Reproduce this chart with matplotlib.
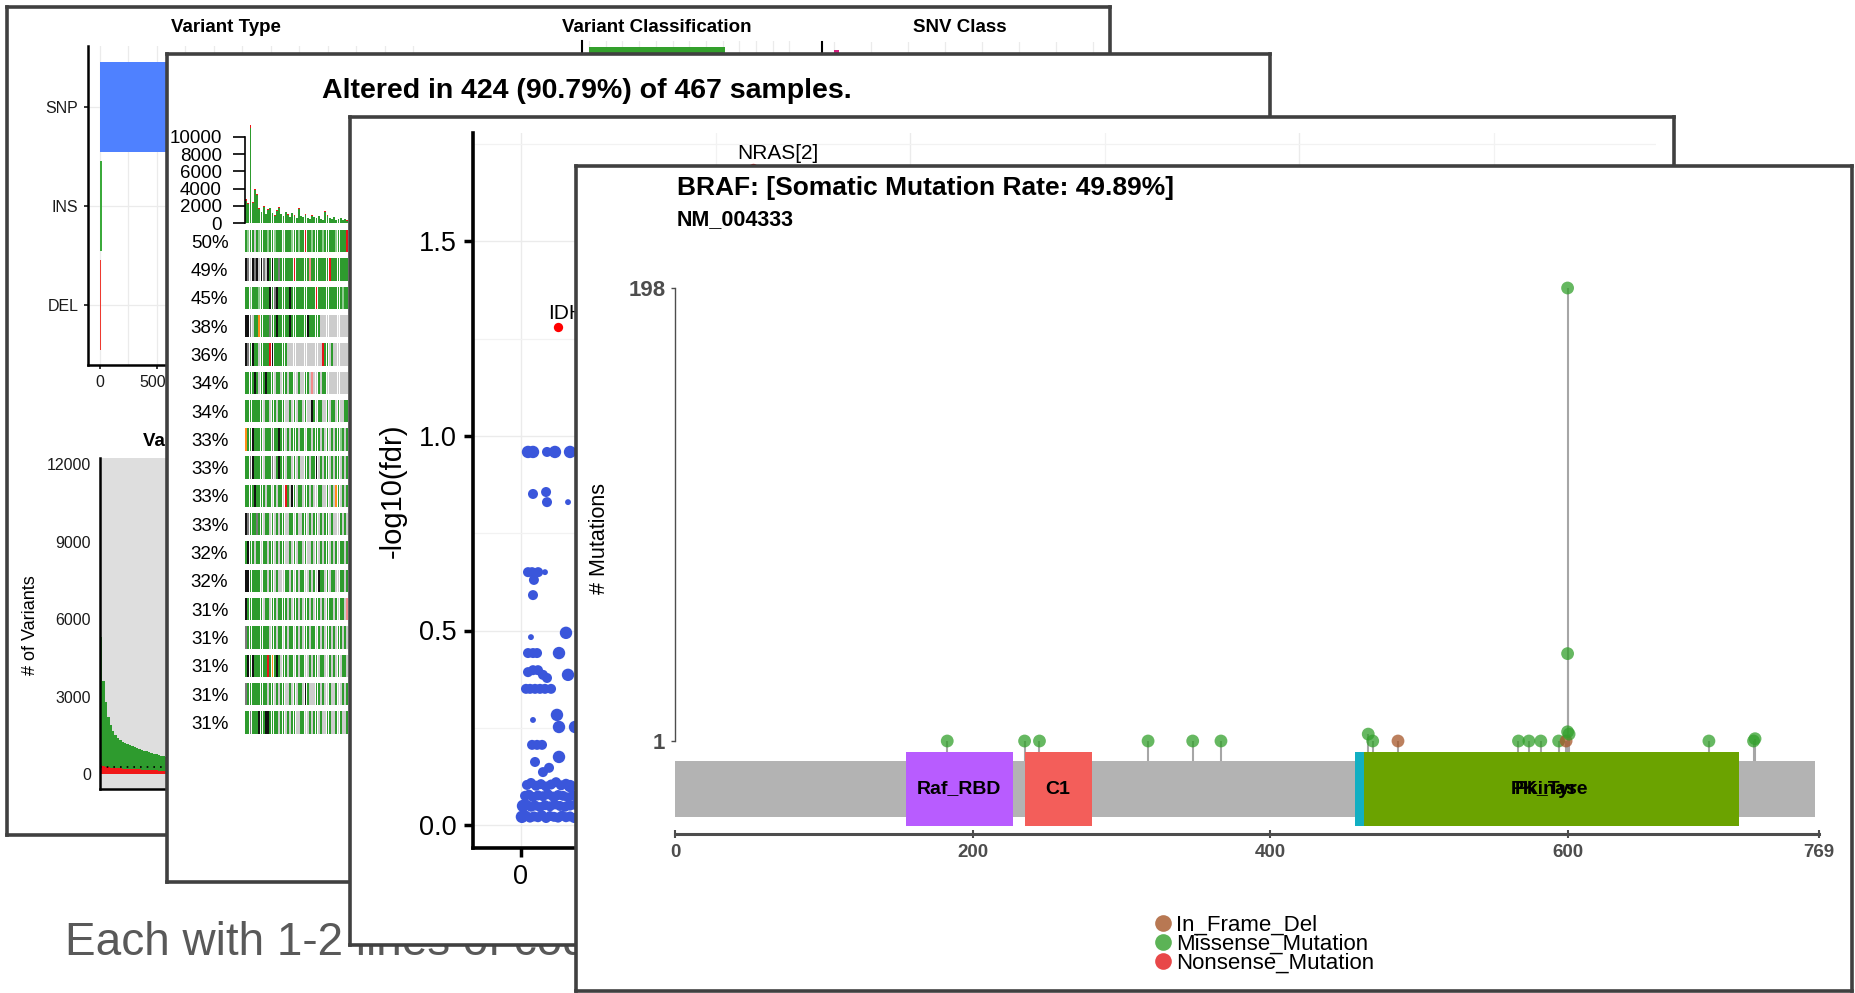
import numpy as np
import matplotlib.pyplot as plt
from matplotlib.patches import Rectangle
from matplotlib.lines import Line2D
from matplotlib.ticker import MultipleLocator

plt.rcParams['font.family'] = ['Liberation Sans', 'DejaVu Sans']

W, H = 1856, 993

# ---------------- data ----------------
# panel 1 : maf summary
vt_types = ['SNP', 'INS', 'DEL']
vt_counts = [27500, 140, 120]
vt_colors = ['#4F81FF', '#3BAA3B', '#EE3A30']

vc_classes = ['Missense_Mutation', 'Nonsense_Mutation', 'Splice_Site', 'Frame_Shift_Del',
              'Frame_Shift_Ins', 'In_Frame_Del', 'In_Frame_Ins', 'Translation_Start_Site']
vc_counts = [203000, 9800, 6100, 3300, 2700, 1500, 400, 250]
vc_colors = ['#33A02C', '#E31A1C', '#FF7F00', '#1F78B4', '#6A3D9A', '#A65628', '#F781BF', '#999999']

snv_classes = ['T>G', 'T>C', 'T>A', 'C>T', 'C>G', 'C>A']
snv_counts = [1400, 9000, 4000, 190000, 3500, 8000]
snv_colors = ['#D61F7F', '#E7298A', '#1B9E77', '#D95F02', '#7570B3', '#66A61E']

vps_missense = [4950, 3300, 2520, 1940, 1650, 1410, 1270, 1180, 1100, 1040, 990, 950, 910, 880,
                840, 820, 790, 770, 740, 720, 690, 670, 650, 620, 600, 580, 560, 540]
vps_nonsense = [350, 300, 280, 260, 250, 240, 230, 220, 220, 210, 210, 200, 200, 190,
                190, 180, 180, 170, 170, 160, 160, 150, 140, 140, 130, 120, 120, 120]
vps_median = 270

# panel 2 : oncoplot
onco_title = 'Altered in 424 (90.79%) of 467 samples.'
tmb_missense = [2600, 2150, 11000, 2300, 3800, 3250, 1620, 1240,
                1900, 1050, 1520, 1710, 1140, 860, 1430, 1800,
                1050, 760, 1240, 950, 670, 1140, 860, 570,
                1610, 760, 670, 950, 570, 480, 860, 670,
                570, 760, 480, 380, 1330, 860, 570, 480,
                670, 380, 480, 570, 380, 480, 290, 380]
tmb_nonsense = [200, 150, 350, 100, 200, 150, 80, 60,
                100, 50, 80, 90, 60, 40, 70, 100,
                50, 40, 60, 50, 30, 60, 40, 30,
                90, 40, 30, 50, 30, 20, 40, 30,
                30, 40, 20, 20, 70, 40, 30, 20,
                30, 20, 20, 30, 20, 20, 10, 20]
onco_pct = [50, 49, 45, 38, 36, 34, 34, 33, 33, 33, 33, 32, 32, 31, 31, 31, 31, 31]
onco_rows = [
    'GgGG-GgG' 'GGgGGgGG' 'GgGGGgGG' 'gGGrGGgG' 'GGGgGGGG' 'GgGGGGrG',
    'kd-kdk-k' 'd-kGkGGd' 'GGGGGGrG' 'GGGGGpGG' 'GGGGGGrG' 'GGGGGGGG',
    'GGgGGGgG' 'GGGkGdkG' 'GGGGkGGG' 'GGGGGGGG' 'rGGGGGGG' 'GGGGgGGG',
    'kkd-GGoG' 'GGGdGGkG' 'GGGGkGGG' 'GGGGkGGG' 'GG------' '--.-----',
    'kdGkGG-G' 'GGGrkGGG' 'GGG-----' '--------' '---rGG-G' '--------',
    'GGGGkG-G' 'GkGGG-GG' '-GG-GG--' 'G--GG-p-' '-G-GG---' '--------',
    'GGGGGGGG' '-GG-GG-G' 'GG--G-G-' 'GG-G--kG' '-GG--G-G' 'G-G--GG-',
    'oGGkGGGG' '-GGGdGGk' 'GG-G-GGG' '-GG-GG-G' 'GG-G-G-G' '-GGgG-G-',
    'GGdkGGGG' '-GGGd-Gk' 'GG-GG-G-' 'G--GG-GG' 'k-G-GG-G' '-GG-G-GG',
    'GGGGkGGG' 'G-GG-G-G' 'G-rG-kG-' 'GG-GG-G-' '-GG--G-G' '-oG-G-G-',
    'kdGGGdGG' '-GG-G-G-' 'GG--GG-G' '--GG-G-G' 'G-G-GG-G' '---G-G-G',
    'GkGG-GG-' 'GG-GG-G-' 'GG--G-G-' 'GG-G--G-' 'G-G-GG-G' '-G-GG-G-',
    'kkGGGGG-' 'GG-GG-G-' '--GG-G-G' '-GG--G-G' '-kGG-G-G' 'G--GG-G-',
    'kGGGGGGG' '-GG-GG-G' 'GGG-G-GG' '-G-GG-G-' 'GG-G-GGG' '-G-GG-pG',
    'dGGGGGGG' 'GGG-GG-G' 'G-G-GG-G' '-G-GG-GG' '-G-G-GG-' 'G-GG-G-G',
    'GkGkGGGG' 'GGrGoGkG' '-GG-GG-G' '-GG--G-G' 'G-GG--G-' 'G-G-GG-G',
    'dGGGGGGG' 'GG-GG-G-' 'GG--G-G-' 'GG-kG---' 'GG-G--G-' '-G--G-G-',
    'GGdGGGkG' 'GkkGGGG-' 'GG-G-GG-' '-GG--G-G' 'G-G--GG-' '-G-G--G-',
]
onco_colors = {'G': '#2E9B2E', 'g': '#8FCB8F', '-': '#CCCCCC', '.': '#DEDEDE', 'k': '#111111',
               'd': '#7A7A7A', 'r': '#E8141A', 'o': '#FF8C1A', 'p': '#F28B8B'}

# panel 3 : oncodrive clusters
od_x = [0.0045, 0.0077, 0.0167, 0.0218, 0.0315,
        0.0077, 0.0161, 0.0167, 0.0302,
        0.0045, 0.0071, 0.0110, 0.0154, 0.0083, 0.0077,
        0.0064, 0.0289,
        0.0045, 0.0077, 0.0103, 0.0244,
        0.0045, 0.0077, 0.0109, 0.0141, 0.0167, 0.0302,
        0.0032, 0.0058, 0.0090, 0.0122, 0.0154, 0.0193,
        0.0231, 0.0077, 0.0244, 0.0347,
        0.0071, 0.0103, 0.0135,
        0.0244, 0.0090, 0.0180, 0.0141,
        0.0038, 0.0064, 0.0096, 0.0128, 0.0161, 0.0193, 0.0225, 0.0257, 0.0289, 0.0315,
        0.0026, 0.0051, 0.0077, 0.0109, 0.0141, 0.0173, 0.0206, 0.0238, 0.0270, 0.0302, 0.0334,
        0.0013, 0.0038, 0.0064, 0.0090, 0.0122, 0.0154, 0.0186, 0.0218, 0.0250, 0.0283, 0.0315, 0.0347,
        0.0006, 0.0032, 0.0058, 0.0083, 0.0109, 0.0135, 0.0161, 0.0186, 0.0212, 0.0238, 0.0263,
        0.0289, 0.0315, 0.0341]
od_y = [0.959, 0.959, 0.959, 0.959, 0.959,
        0.851, 0.856, 0.830, 0.830,
        0.650, 0.650, 0.650, 0.650, 0.630, 0.591,
        0.483, 0.494,
        0.442, 0.442, 0.442, 0.442,
        0.393, 0.398, 0.398, 0.386, 0.378, 0.386,
        0.350, 0.350, 0.350, 0.350, 0.350, 0.350,
        0.283, 0.270, 0.252, 0.252,
        0.206, 0.206, 0.206,
        0.175, 0.162, 0.147, 0.136,
        0.103, 0.108, 0.101, 0.105, 0.099, 0.104, 0.110, 0.102, 0.106, 0.100,
        0.075, 0.078, 0.072, 0.076, 0.074, 0.079, 0.073, 0.077, 0.075, 0.071, 0.076,
        0.049, 0.052, 0.047, 0.050, 0.046, 0.051, 0.048, 0.053, 0.049, 0.047, 0.050, 0.052,
        0.021, 0.024, 0.019, 0.022, 0.020, 0.025, 0.018, 0.023, 0.021, 0.019, 0.024, 0.020,
        0.022, 0.018]
od_n = [3, 3, 2, 3, 3,
        2, 2, 2, 1,
        2, 2, 2, 1, 2, 2,
        1, 3,
        2, 2, 2, 3,
        2, 2, 2, 2, 2, 3,
        2, 2, 2, 2, 2, 2,
        3, 1, 3, 3,
        2, 2, 2,
        3, 2, 2, 2,
        2, 2, 2, 2, 2, 2, 2, 2, 2, 3,
        2, 2, 2, 2, 2, 2, 2, 2, 2, 2, 2,
        3, 2, 2, 2, 2, 2, 2, 2, 2, 2, 2, 2,
        3, 2, 2, 2, 2, 2, 2, 2, 2, 2, 2, 2, 2, 2]
hit_genes = ['IDH1[1]', 'NRAS[2]']
hit_x = [0.024, 0.149]
hit_y = [1.28, 1.689]

# panel 4 : lollipop
prot_len = 766
lp_pos = [183, 235, 245, 318, 348, 367, 466, 469, 486, 567, 574, 582, 594, 599,
          600, 600, 600, 601, 695, 725, 726]
lp_count = [1, 1, 1, 1, 1, 1, 4, 1, 1, 1, 1, 1, 1, 1, 198, 39, 5, 4, 1, 1, 2]
lp_class = ['Missense_Mutation'] * 8 + ['In_Frame_Del'] + ['Missense_Mutation'] * 4 + \
           ['In_Frame_Del'] + ['Missense_Mutation'] * 7
lp_classes = ['In_Frame_Del', 'Missense_Mutation', 'Nonsense_Mutation']
lp_colors = {'In_Frame_Del': '#A65628', 'Missense_Mutation': '#33A02C', 'Nonsense_Mutation': '#E31A1C'}
dom_names = ['Raf_RBD', 'C1', 'PK_Tyr', 'Pkinase']
dom_start = [155, 235, 457, 463]
dom_end = [227, 280, 712, 715]
dom_colors = ['#B85CFF', '#F35E5A', '#12AFC2', '#6BA300']

# ---------------- layout helpers ----------------
fig = plt.figure(figsize=(W / 100, H / 100), dpi=100)


def box(x0, y0, x1, y1):
    return [x0 / W, 1 - y1 / H, (x1 - x0) / W, (y1 - y0) / H]


def frame(x0, y0, x1, y1, z):
    ax = fig.add_axes(box(x0, y0, x1, y1), zorder=z)
    ax.set_xticks([])
    ax.set_yticks([])
    for s in ax.spines.values():
        s.set_color('#404040')
        s.set_linewidth(2.6)
    return ax


def sub(x0, y0, x1, y1, z):
    ax = fig.add_axes(box(x0, y0, x1, y1), zorder=z)
    ax.set_facecolor('none')
    ax.spines[['top', 'right']].set_visible(False)
    return ax


def label(x, y, s, z, **kw):
    fig.text(x / W, 1 - y / H, s, zorder=z, **kw)


# slide text behind the pictures
label(65, 955, 'Each with 1-2 lines of code', 0.5, fontsize=33, color='#595959', va='baseline')

# ---------------- panel 1 ----------------
frame(7, 7, 1110, 835, 1)

ax = sub(88, 46, 440, 365, 1.1)
ax.barh(range(len(vt_types)), vt_counts, height=0.91, color=vt_colors, zorder=2)
ax.set_ylim((365 - 107) / 99, -(107 - 46) / 99)
ax.set_xlim(-12 / 28.5 * 2500, (440 - 100) / 28.5 * 2500)
ax.set_yticks(range(len(vt_types)), vt_types)
ax.xaxis.set_major_locator(MultipleLocator(5000))
ax.xaxis.set_minor_locator(MultipleLocator(2500))
ax.grid(which='both', color='#EBEBEB', lw=0.9)
ax.set_axisbelow(True)
ax.tick_params(which='minor', length=0)
ax.tick_params(labelsize=11.5, length=3, width=1.1, pad=4, labelcolor='#1A1A1A')
ax.spines[['left', 'bottom']].set_linewidth(1.8)
label(226, 28, 'Variant Type', 1.2, fontsize=13.5, weight='bold', ha='center', va='center')

ax = sub(582, 41, 800, 380, 1.1)
ax.barh(range(len(vc_classes)), vc_counts, height=0.8, color=vc_colors, zorder=2)
ax.set_ylim((380 - 63) / 40, -(63 - 41) / 40)
ax.set_xlim(-7 / 16.7 * 25000, (800 - 589) / 16.7 * 25000)
ax.xaxis.set_major_locator(MultipleLocator(25000))
ax.set_yticks([])
ax.grid(axis='x', color='#EBEBEB', lw=0.9)
ax.set_axisbelow(True)
ax.tick_params(length=0, labelbottom=False)
ax.spines['bottom'].set_visible(False)
ax.spines['left'].set_linewidth(1.5)
label(657, 27, 'Variant Classification', 1.2, fontsize=13.5, weight='bold', ha='center', va='center')

ax = sub(822, 42, 1100, 380, 1.1)
ax.barh(range(len(snv_classes)), snv_counts, height=0.8, color=snv_colors, zorder=2)
ax.set_ylim((380 - 70) / 50, -(70 - 42) / 50)
ax.set_xlim(-12 / 37 * 10000, (1100 - 834) / 37 * 10000)
ax.xaxis.set_major_locator(MultipleLocator(10000))
ax.set_yticks([])
ax.grid(axis='x', color='#EBEBEB', lw=0.9)
ax.set_axisbelow(True)
ax.tick_params(length=0, labelbottom=False)
ax.spines['bottom'].set_visible(False)
ax.spines['left'].set_linewidth(1.5)
label(960, 27, 'SNV Class', 1.2, fontsize=13.5, weight='bold', ha='center', va='center')

ax = sub(100, 458, 400, 789, 1.1)
ax.set_facecolor('#DEDEDE')
xs = np.arange(len(vps_missense))
ax.bar(xs, vps_nonsense, width=0.95, color='#F01818', lw=0)
ax.bar(xs, vps_missense, bottom=vps_nonsense, width=0.95, color='#2E9B2E', lw=0)
ax.axhline(vps_median, color='black', ls=(0, (1, 3)), lw=1.2)
ax.set_xlim(-0.5, 300 / 2.4 - 0.5)
ax.set_ylim(-(789 - 774) / 25.8 * 1000, (774 - 458) / 25.8 * 1000)
ax.set_yticks([0, 3000, 6000, 9000, 12000])
ax.set_xticks([])
ax.tick_params(length=0, pad=6.5, labelsize=11.5, labelcolor='#1A1A1A')
ax.spines[['left', 'bottom']].set_linewidth(1.8)
label(143, 442, 'Variants per sample', 1.2, fontsize=13.5, weight='bold', ha='left', va='center')
label(31, 625, '# of Variants', 1.2, fontsize=13, rotation=90, ha='center', va='center')

# ---------------- panel 2 ----------------
frame(167, 54, 1270, 882, 2)
label(587, 91, onco_title, 2.2, fontsize=20.5, weight='bold', ha='center', va='center')

ax = sub(245, 118, 1178, 223, 2.1)
xs = np.arange(len(tmb_missense))
ax.bar(xs, tmb_missense, width=0.85, color='#2E9B2E', lw=0)
ax.bar(xs, tmb_nonsense, bottom=tmb_missense, width=0.85, color='#F01818', lw=0)
ax.set_xlim(-0.5, 423.5)
ax.set_ylim(0, 12200)
ax.spines['bottom'].set_visible(False)
ax.spines['left'].set_bounds(0, 10000)
ax.spines['left'].set_linewidth(1.2)
ax.set_yticks(range(0, 10001, 2000))
ax.set_xticks([])
ax.tick_params(length=8.6, width=1.2, pad=8, labelsize=13.5)

ax = sub(245, 230, 1178, 734, 2.1)
for i, row in enumerate(onco_rows):
    for code, col in onco_colors.items():
        cols = [j for j, c in enumerate(row) if c == code]
        if cols:
            ax.bar(cols, 0.795, bottom=i, width=0.8, color=col, lw=0)
ax.set_xlim(-0.5, 423.5)
ax.set_ylim((734 - 230) / 28.3, 0)
ax.set_yticks(np.arange(len(onco_pct)) + 0.3975, [f'{p}%' for p in onco_pct])
ax.set_xticks([])
ax.spines[['left', 'bottom']].set_visible(False)
ax.tick_params(length=0, pad=12, labelsize=13.5)

# ---------------- panel 3 ----------------
frame(350, 117, 1674, 945, 3)
ax = sub(473, 133, 1656, 848, 3.1)
size_map = {1: 18, 2: 52, 3: 80}
ax.scatter(od_x, od_y, s=[size_map[n] for n in od_n], color='#3A56DB', lw=0, zorder=3)
ax.scatter(hit_x, hit_y, s=45, color='#FF0000', lw=0, zorder=4)
ax.text(hit_x[0] - 0.0067, hit_y[0] + 0.036, hit_genes[0], fontsize=15, ha='left', va='center')
ax.text(hit_x[1] + 0.016, hit_y[1] + 0.038, hit_genes[1], fontsize=15, ha='center', va='center')
ax.set_xlim(-48 / 1557, (1656 - 521) / 1557)
ax.set_ylim(-(848 - 825) / 389, (825 - 133) / 389)
ax.set_xticks([0, 0.25, 0.5], ['0', '0.25', '0.50'])
ax.set_yticks([0, 0.5, 1.0, 1.5], ['0.0', '0.5', '1.0', '1.5'])
ax.xaxis.set_minor_locator(MultipleLocator(0.125))
ax.yaxis.set_minor_locator(MultipleLocator(0.25))
ax.grid(which='major', color='#EBEBEB', lw=1.0)
ax.grid(which='minor', color='#F2F2F2', lw=0.9)
ax.set_axisbelow(True)
ax.spines[['left', 'bottom']].set_linewidth(2.6)
ax.tick_params(which='major', length=6.5, width=2.5, labelsize=19.5, pad=5)
ax.tick_params(which='minor', length=0)
label(393, 491, '-log10(fdr)', 3.2, fontsize=21, rotation=90, ha='center', va='center')

# ---------------- panel 4 ----------------
frame(576, 166, 1852, 991, 4)
label(677, 188, 'BRAF: [Somatic Mutation Rate: 49.89%]', 4.2, fontsize=19, weight='bold', va='center')
label(677, 220, 'NM_004333', 4.2, fontsize=15.5, weight='bold', va='center')
label(600, 539, '# Mutations', 4.2, fontsize=15.5, rotation=90, ha='center', va='center')


def lp_y(py):
    return 1 + (741 - py) / 2.2995


ax = sub(675, 250, 1819, 880, 4.1)
ax.set_xlim(0, 769)
ax.set_ylim(lp_y(880), lp_y(250))
ax.add_patch(Rectangle((0, lp_y(817)), prot_len, lp_y(761) - lp_y(817), color='#B3B3B3', lw=0, zorder=1))
ax.vlines(lp_pos, lp_y(761), lp_count, color='#A6A6A6', lw=1.5, zorder=2)
for name, st, en, col in zip(dom_names, dom_start, dom_end, dom_colors):
    ax.add_patch(Rectangle((st, lp_y(826)), en - st, lp_y(752) - lp_y(826), color=col, lw=0, zorder=3))
    ax.text((st + en) / 2, lp_y(789), name, fontsize=14, weight='bold', ha='center', va='center', zorder=5)
ax.scatter(lp_pos, lp_count, s=85, c=[lp_colors[c] for c in lp_class], alpha=0.75, lw=0, zorder=4)
ax.spines['left'].set_bounds(1, 198)
ax.spines['left'].set_color('#4D4D4D')
ax.spines['left'].set_linewidth(1.0)
ax.spines['bottom'].set_position(('data', lp_y(834)))
ax.spines['bottom'].set_bounds(0, 769)
ax.spines['bottom'].set_color('#4D4D4D')
ax.spines['bottom'].set_linewidth(2.2)
ax.set_yticks([1, 198])
ax.set_xticks([0, 200, 400, 600, 769])
ax.tick_params(axis='y', length=3, width=1, colors='#4D4D4D', labelsize=16, pad=4)
ax.tick_params(axis='x', direction='inout', length=6, width=1.5, colors='#4D4D4D', labelsize=13.5, pad=4)
for t in ax.get_xticklabels() + ax.get_yticklabels():
    t.set_fontweight('bold')
handles = [Line2D([], [], ls='', marker='o', ms=12, color=lp_colors[c], alpha=0.8, mew=0) for c in lp_classes]
ax.legend(handles, lp_classes, loc='upper left', bbox_to_anchor=(1153 / W, 1 - 915 / H),
          bbox_transform=fig.transFigure, frameon=False, fontsize=16, labelspacing=-0.09,
          handletextpad=0.15, handlelength=0.9, borderpad=0, borderaxespad=0)

fig.savefig('out.png', dpi=100)
